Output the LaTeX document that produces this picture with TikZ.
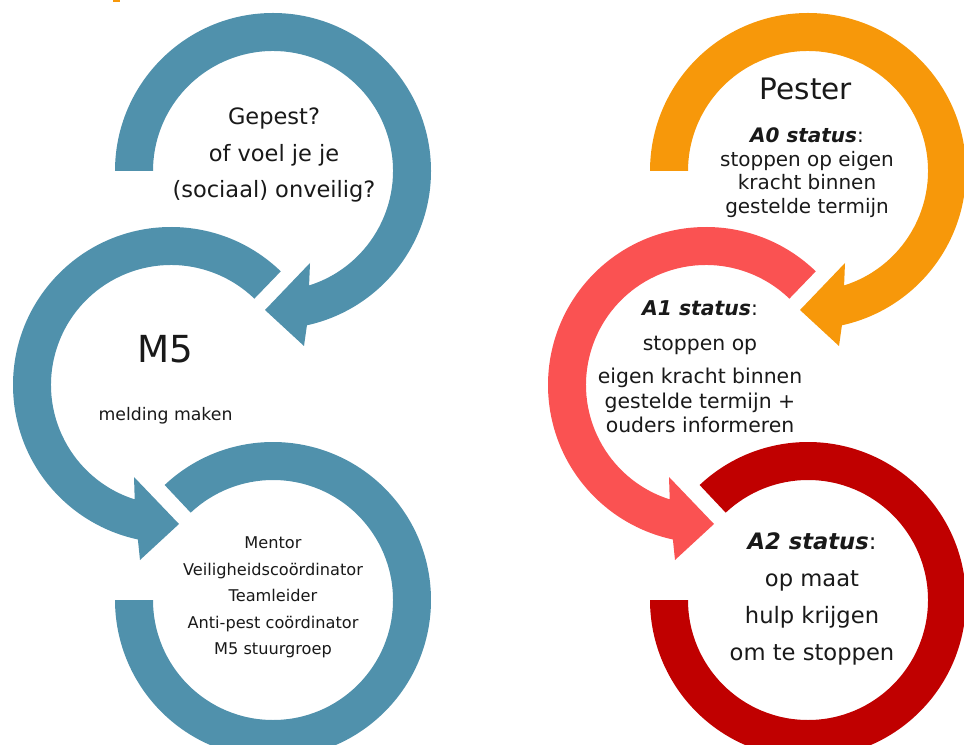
\documentclass[tikz,border=0pt]{standalone}
\usepackage{fontspec}
\setmainfont{DejaVu Sans}
\usetikzlibrary{positioning}
\definecolor{ringblue}{RGB}{80,145,172}
\definecolor{ringorange}{RGB}{247,152,10}
\definecolor{ringsalmon}{RGB}{250,82,82}
\definecolor{ringred}{RGB}{192,0,0}
\tikzset{ring label/.style={align=center, inner sep=0pt, text=black!90}}
\tikzset{status label/.style={ring label, font=\fontsize{14.2}{16.8}\selectfont}}
\newcommand{\statusname}[1]{\textbf{\textit{#1}}}

\begin{document}
\begin{tikzpicture}[x=0.025cm, y=0.025cm]
  \useasboundingbox (0,0) rectangle (964,744);
  \fill [ringorange] (113,742) rectangle (120,744);

  % left column: melder
  \begin{scope}[shift={(273,573)}]
    \fill [ringblue] (180:158) arc [start angle=180, end angle=-77.6, radius=158]
      -- (31,-175) -- (-8,-139) -- (37,-92) -- (-72.5:120)
      arc [start angle=-72.5, end angle=180, radius=120] -- cycle;
  \end{scope}
  \begin{scope}[shift={(171,359)}]
    \fill [ringblue] (46:158) arc [start angle=46, end angle=257.9, radius=158]
      -- (-31,-175) -- (8,-139) -- (-37,-92) -- (252.4:120)
      arc [start angle=252.4, end angle=46, radius=120] -- cycle;
  \end{scope}
  \begin{scope}[shift={(273,144)}]
    \fill [ringblue] (133.3:158) arc [start angle=133.3, end angle=-180, radius=158]
      -- (-180:120) arc [start angle=-180, end angle=133.3, radius=120] -- cycle;
  \end{scope}

  % right column: pester
  \begin{scope}[shift={(808,573)}]
    \fill [ringorange] (180:158) arc [start angle=180, end angle=-77.6, radius=158]
      -- (31,-175) -- (-8,-139) -- (37,-92) -- (-72.5:120)
      arc [start angle=-72.5, end angle=180, radius=120] -- cycle;
  \end{scope}
  \begin{scope}[shift={(706,359)}]
    \fill [ringsalmon] (46:158) arc [start angle=46, end angle=257.9, radius=158]
      -- (-31,-175) -- (8,-139) -- (-37,-92) -- (252.4:120)
      arc [start angle=252.4, end angle=46, radius=120] -- cycle;
  \end{scope}
  \begin{scope}[shift={(808,144)}]
    \fill [ringred] (133.3:158) arc [start angle=133.3, end angle=-180, radius=158]
      -- (-180:120) arc [start angle=-180, end angle=133.3, radius=120] -- cycle;
  \end{scope}

  \node [ring label, font=\fontsize{16}{26.3}\selectfont] (gepest) at (274,589)
    {Gepest?\\ of voel je je\\ (sociaal) onveilig?};
  \node [ring label, anchor=base, font=\fontsize{26.5}{30}\selectfont] (mfive) at (165.5,381) {M5};
  \node [ring label, anchor=base, font=\fontsize{12.3}{15}\selectfont] (melding) at (165.5,324) {melding maken};
  \node [ring label, font=\fontsize{11.5}{18.8}\selectfont] (contacts) at (273,146.5)
    {Mentor\\ Veiligheidscoördinator\\ Teamleider\\ Anti-pest coördinator\\ M5 stuurgroep};

  \node [ring label, anchor=base, font=\fontsize{21}{25}\selectfont] (pester) at (806,644) {Pester};
  \node [status label] (azero) at (807,571.5)
    {\statusname{A0 status}:\\ stoppen op eigen\\ kracht binnen\\ gestelde termijn};
  \node [status label, font=\fontsize{14.5}{17.4}\selectfont] (aone) at (700,377)
    {\statusname{A1 status}:\\[7.5pt] stoppen op\\[6pt] eigen kracht binnen\\ gestelde termijn +\\ ouders informeren};
  \node [ring label, font=\fontsize{16.1}{26.3}\selectfont] (atwo) at (812,145.5)
    {\statusname{A2 status}:\\ op maat\\ hulp krijgen\\ om te stoppen};
\end{tikzpicture}
\end{document}
